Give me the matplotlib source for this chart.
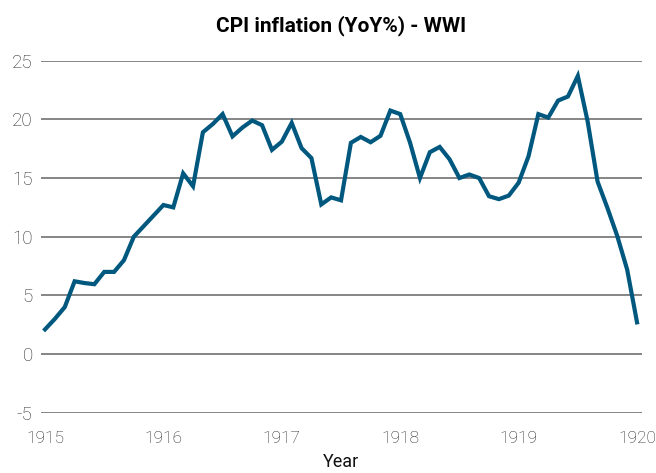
import matplotlib
matplotlib.use("Agg")
import matplotlib.pyplot as plt
import numpy as np

# Monthly CPI inflation (YoY %), Jan 1915 .. Jan 1920
start_year = 1915
cpi_yoy = [
    2.1, 3.0, 4.0, 6.2, 6.05, 5.95, 7.0, 7.0, 8.0, 10.0, 10.9, 11.8,
    12.7, 12.5, 15.4, 14.3, 18.9, 19.6, 20.45, 18.55, 19.3, 19.9, 19.5, 17.4,
    18.1, 19.7, 17.55, 16.7, 12.75, 13.35, 13.1, 18.0, 18.5, 18.05, 18.6, 20.75,
    20.45, 18.0, 15.0, 17.2, 17.65, 16.6, 15.0, 15.3, 15.0, 13.45, 13.2, 13.5,
    14.6, 16.85, 20.45, 20.15, 21.6, 21.95, 23.7, 19.8, 14.7, 12.45, 10.05, 7.2,
    2.7,
]
years = [start_year + i / 12 for i in range(len(cpi_yoy))]
x_ticks = [1915, 1916, 1917, 1918, 1919, 1920]
y_ticks = [-5, 0, 5, 10, 15, 20, 25]
title = "CPI inflation (YoY%) - WWI"
x_label = "Year"

plt.rcParams['font.family'] = ['Roboto', 'DejaVu Sans']

fig = plt.figure(figsize=(6.56, 4.73), dpi=100)
ax = fig.add_axes([41/656, 1 - 412.7/473, (642-41)/656, (412.7-60.7)/473])

ax.plot(years, cpi_yoy, color='#00587f', lw=3.0, solid_joinstyle='miter', zorder=3)

ax.set_xlim(1914.966, 1920.042)
ax.set_ylim(-5, 25)
ax.set_xticks(x_ticks)
ax.set_yticks(y_ticks)
ax.set_xticklabels([str(t) for t in x_ticks])
ax.set_yticklabels([str(t) for t in y_ticks])

for s in ax.spines.values():
    s.set_visible(False)
ax.grid(axis='y', color='#858585', lw=1.4)
ax.grid(axis='x', visible=False)
ax.set_axisbelow(True)
ax.tick_params(axis='both', length=0, labelcolor='#2b2b2b')
ax.tick_params(axis='x', pad=13, labelsize=12.5)
ax.tick_params(axis='y', pad=6, labelsize=13.5)
for lab in ax.get_xticklabels() + ax.get_yticklabels():
    lab.set_fontweight('light')

ax.set_xlabel(x_label, fontsize=13, labelpad=5, color='#111111')
fig.text((41 + 642) / 2 / 656, 1 - 26/473, title, ha='center', va='center',
         fontsize=15, fontweight='bold', color='#000000')

fig.savefig('out.png', dpi=100)
